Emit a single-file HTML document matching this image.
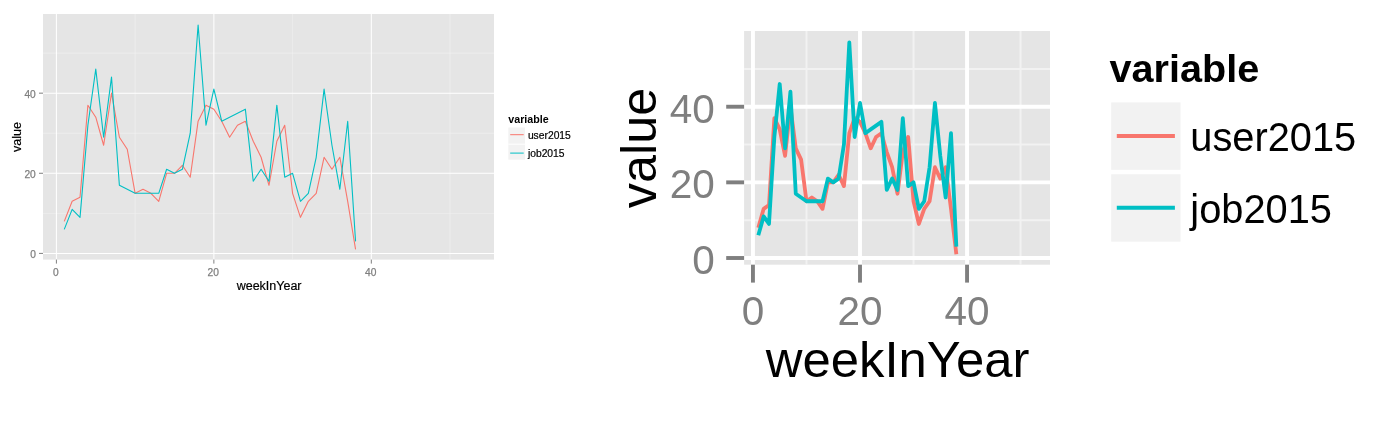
<!DOCTYPE html>
<html><head><meta charset="utf-8"><title>ggplot comparison</title>
<style>
html,body{margin:0;padding:0;background:#fff;}
body{width:1386px;height:428px;overflow:hidden;}
svg{display:block;font-family:'Liberation Sans', Arial, sans-serif;}
</style></head>
<body>
<svg width="1386" height="428" viewBox="0 0 1386 428">
<rect x="0" y="0" width="1386" height="428" fill="#fff"/>
<rect x="43.0" y="14.0" width="451.00" height="245.60" fill="#e5e5e5"/>
<line x1="135.13" x2="135.13" y1="14.0" y2="259.6" stroke="#f2f2f2" stroke-width="0.6"/>
<line y1="213.34" y2="213.34" x1="43.0" x2="494.0" stroke="#f2f2f2" stroke-width="0.6"/>
<line x1="292.59" x2="292.59" y1="14.0" y2="259.6" stroke="#f2f2f2" stroke-width="0.6"/>
<line y1="133.22" y2="133.22" x1="43.0" x2="494.0" stroke="#f2f2f2" stroke-width="0.6"/>
<line x1="450.05" x2="450.05" y1="14.0" y2="259.6" stroke="#f2f2f2" stroke-width="0.6"/>
<line y1="53.10" y2="53.10" x1="43.0" x2="494.0" stroke="#f2f2f2" stroke-width="0.6"/>
<line x1="56.40" x2="56.40" y1="14.0" y2="259.6" stroke="#fff" stroke-width="1.05"/>
<line y1="253.40" y2="253.40" x1="43.0" x2="494.0" stroke="#fff" stroke-width="1.05"/>
<line x1="213.86" x2="213.86" y1="14.0" y2="259.6" stroke="#fff" stroke-width="1.05"/>
<line y1="173.28" y2="173.28" x1="43.0" x2="494.0" stroke="#fff" stroke-width="1.05"/>
<line x1="371.32" x2="371.32" y1="14.0" y2="259.6" stroke="#fff" stroke-width="1.05"/>
<line y1="93.16" y2="93.16" x1="43.0" x2="494.0" stroke="#fff" stroke-width="1.05"/>
<polyline points="64.27,221.35 72.15,201.32 80.02,197.32 87.89,105.18 95.77,117.20 103.64,145.24 111.51,93.16 119.38,137.23 127.26,149.24 135.13,193.31 143.00,189.30 150.88,193.31 158.75,201.32 166.62,173.28 174.50,173.28 182.37,165.27 190.24,177.29 198.11,121.20 205.99,105.18 213.86,109.18 221.73,121.20 229.61,137.23 237.48,125.21 245.35,121.20 253.23,141.23 261.10,157.26 268.97,185.30 276.84,141.23 284.72,125.21 292.59,193.31 300.46,217.35 308.34,201.32 316.21,193.31 324.08,157.26 331.95,169.27 339.83,157.26 347.70,201.32 355.57,249.39" fill="none" stroke="#F8766D" stroke-width="1.1" stroke-linejoin="round" stroke-linecap="butt"/>
<polyline points="64.27,229.36 72.15,209.33 80.02,217.35 87.89,125.21 95.77,69.12 103.64,137.23 111.51,77.14 119.38,185.30 127.26,189.30 135.13,193.31 143.00,193.31 150.88,193.31 158.75,193.31 166.62,169.27 174.50,173.28 182.37,169.27 190.24,133.22 198.11,25.06 205.99,125.21 213.86,89.15 221.73,121.20 229.61,117.20 237.48,113.19 245.35,109.18 253.23,181.29 261.10,169.27 268.97,181.29 276.84,105.18 284.72,177.29 292.59,173.28 300.46,201.32 308.34,193.31 316.21,157.26 324.08,89.15 331.95,145.24 339.83,189.30 347.70,121.20 355.57,241.38" fill="none" stroke="#00BFC4" stroke-width="1.1" stroke-linejoin="round" stroke-linecap="butt"/>
<line x1="56.40" x2="56.40" y1="259.6" y2="263.6" stroke="#7f7f7f" stroke-width="1.0"/>
<line y1="253.40" y2="253.40" x1="39.0" x2="43.0" stroke="#7f7f7f" stroke-width="1.0"/>
<line x1="213.86" x2="213.86" y1="259.6" y2="263.6" stroke="#7f7f7f" stroke-width="1.0"/>
<line y1="173.28" y2="173.28" x1="39.0" x2="43.0" stroke="#7f7f7f" stroke-width="1.0"/>
<line x1="371.32" x2="371.32" y1="259.6" y2="263.6" stroke="#7f7f7f" stroke-width="1.0"/>
<line y1="93.16" y2="93.16" x1="39.0" x2="43.0" stroke="#7f7f7f" stroke-width="1.0"/>
<text x="55.80" y="276.2" font-size="10.2" fill="#7f7f7f" stroke="#7f7f7f" stroke-width="0.25" text-anchor="middle">0</text>
<text x="35.8" y="258.30" font-size="10.2" fill="#7f7f7f" stroke="#7f7f7f" stroke-width="0.25" text-anchor="end">0</text>
<text x="213.26" y="276.2" font-size="10.2" fill="#7f7f7f" stroke="#7f7f7f" stroke-width="0.25" text-anchor="middle">20</text>
<text x="35.8" y="178.18" font-size="10.2" fill="#7f7f7f" stroke="#7f7f7f" stroke-width="0.25" text-anchor="end">20</text>
<text x="370.72" y="276.2" font-size="10.2" fill="#7f7f7f" stroke="#7f7f7f" stroke-width="0.25" text-anchor="middle">40</text>
<text x="35.8" y="98.06" font-size="10.2" fill="#7f7f7f" stroke="#7f7f7f" stroke-width="0.25" text-anchor="end">40</text>
<text x="269.1" y="289.9" font-size="12.5" fill="#000" stroke="#000" stroke-width="0.2" text-anchor="middle">weekInYear</text>
<text transform="translate(21.3,137) rotate(-90)" font-size="12.5" fill="#000" stroke="#000" stroke-width="0.2" text-anchor="middle">value</text>
<text x="508.3" y="122.5" font-size="10.7" font-weight="bold" fill="#000">variable</text>
<rect x="508.3" y="127.5" width="16.7" height="32.2" fill="#f2f2f2"/>
<line x1="508.3" x2="525" y1="144.2" y2="144.2" stroke="#fff" stroke-width="1"/>
<line x1="510.2" x2="523.7" y1="134.70" y2="134.70" stroke="#F8766D" stroke-width="1"/>
<text x="527.9" y="139.10" font-size="10.3" fill="#000" stroke="#000" stroke-width="0.2">user2015</text>
<line x1="510.2" x2="523.7" y1="153.10" y2="153.10" stroke="#00BFC4" stroke-width="1"/>
<text x="527.9" y="157.30" font-size="10.3" fill="#000" stroke="#000" stroke-width="0.2">job2015</text>
<g>
<rect x="744.1" y="31.0" width="305.90" height="233.70" fill="#e5e5e5"/>
<line x1="806.48" x2="806.48" y1="31.0" y2="264.7" stroke="#f2f2f2" stroke-width="2.0"/>
<line y1="220.18" y2="220.18" x1="744.1" x2="1050.0" stroke="#f2f2f2" stroke-width="2.0"/>
<line x1="913.53" x2="913.53" y1="31.0" y2="264.7" stroke="#f2f2f2" stroke-width="2.0"/>
<line y1="144.54" y2="144.54" x1="744.1" x2="1050.0" stroke="#f2f2f2" stroke-width="2.0"/>
<line x1="1020.58" x2="1020.58" y1="31.0" y2="264.7" stroke="#f2f2f2" stroke-width="2.0"/>
<line y1="68.90" y2="68.90" x1="744.1" x2="1050.0" stroke="#f2f2f2" stroke-width="2.0"/>
<line x1="752.95" x2="752.95" y1="31.0" y2="264.7" stroke="#fff" stroke-width="3.9"/>
<line y1="258.00" y2="258.00" x1="744.1" x2="1050.0" stroke="#fff" stroke-width="3.9"/>
<line x1="860.00" x2="860.00" y1="31.0" y2="264.7" stroke="#fff" stroke-width="3.9"/>
<line y1="182.36" y2="182.36" x1="744.1" x2="1050.0" stroke="#fff" stroke-width="3.9"/>
<line x1="967.05" x2="967.05" y1="31.0" y2="264.7" stroke="#fff" stroke-width="3.9"/>
<line y1="106.72" y2="106.72" x1="744.1" x2="1050.0" stroke="#fff" stroke-width="3.9"/>
<polyline points="758.30,227.74 763.66,208.83 769.01,205.05 774.36,118.07 779.71,129.41 785.07,155.89 790.42,106.72 795.77,148.32 801.12,159.67 806.48,201.27 811.83,197.49 817.18,201.27 822.53,208.83 827.88,182.36 833.24,182.36 838.59,174.80 843.94,186.14 849.30,133.19 854.65,118.07 860.00,121.85 865.35,133.19 870.71,148.32 876.06,136.98 881.41,133.19 886.76,152.10 892.12,167.23 897.47,193.71 902.82,152.10 908.17,136.98 913.53,201.27 918.88,223.96 924.23,208.83 929.58,201.27 934.94,167.23 940.29,178.58 945.64,167.23 950.99,208.83 956.35,254.22" fill="none" stroke="#F8766D" stroke-width="3.8" stroke-linejoin="round" stroke-linecap="butt"/>
<polyline points="758.30,235.31 763.66,216.40 769.01,223.96 774.36,136.98 779.71,84.03 785.07,148.32 790.42,91.59 795.77,193.71 801.12,197.49 806.48,201.27 811.83,201.27 817.18,201.27 822.53,201.27 827.88,178.58 833.24,182.36 838.59,178.58 843.94,144.54 849.30,42.43 854.65,136.98 860.00,102.94 865.35,133.19 870.71,129.41 876.06,125.63 881.41,121.85 886.76,189.92 892.12,178.58 897.47,189.92 902.82,118.07 908.17,186.14 913.53,182.36 918.88,208.83 924.23,201.27 929.58,167.23 934.94,102.94 940.29,155.89 945.64,197.49 950.99,133.19 956.35,246.65" fill="none" stroke="#00BFC4" stroke-width="3.8" stroke-linejoin="round" stroke-linecap="butt"/>
<line x1="752.95" x2="752.95" y1="264.7" y2="282.59999999999997" stroke="#7f7f7f" stroke-width="3.9"/>
<line y1="258.00" y2="258.00" x1="726.2" x2="744.1" stroke="#7f7f7f" stroke-width="3.9"/>
<line x1="860.00" x2="860.00" y1="264.7" y2="282.59999999999997" stroke="#7f7f7f" stroke-width="3.9"/>
<line y1="182.36" y2="182.36" x1="726.2" x2="744.1" stroke="#7f7f7f" stroke-width="3.9"/>
<line x1="967.05" x2="967.05" y1="264.7" y2="282.59999999999997" stroke="#7f7f7f" stroke-width="3.9"/>
<line y1="106.72" y2="106.72" x1="726.2" x2="744.1" stroke="#7f7f7f" stroke-width="3.9"/>
<text x="752.95" y="324.5" font-size="40.5" fill="#7f7f7f" text-anchor="middle">0</text>
<text x="714.8" y="273.90" font-size="40.5" fill="#7f7f7f" text-anchor="end">0</text>
<text x="860.00" y="324.5" font-size="40.5" fill="#7f7f7f" text-anchor="middle">20</text>
<text x="714.8" y="198.26" font-size="40.5" fill="#7f7f7f" text-anchor="end">20</text>
<text x="967.05" y="324.5" font-size="40.5" fill="#7f7f7f" text-anchor="middle">40</text>
<text x="714.8" y="122.62" font-size="40.5" fill="#7f7f7f" text-anchor="end">40</text>
<text x="897.6" y="376.7" font-size="50.8" fill="#000" text-anchor="middle">weekInYear</text>
<text transform="translate(655.9,148) rotate(-90)" font-size="50.3" fill="#000" text-anchor="middle">value</text>
<text x="1109.6" y="81.9" font-size="39.6" font-weight="bold" fill="#000">variable</text>
<rect x="1111.2" y="102.40" width="69.3" height="67.4" fill="#f2f2f2"/>
<line x1="1116.8" x2="1174.9" y1="136.00" y2="136.00" stroke="#F8766D" stroke-width="4.0"/>
<text x="1190.3" y="150.80" font-size="39.8" fill="#000">user2015</text>
<rect x="1111.2" y="174.25" width="69.3" height="67.4" fill="#f2f2f2"/>
<line x1="1116.8" x2="1174.9" y1="207.85" y2="207.85" stroke="#00BFC4" stroke-width="4.0"/>
<text x="1190.3" y="222.60" font-size="39.8" fill="#000">job2015</text>
</g>
</svg>
</body></html>
